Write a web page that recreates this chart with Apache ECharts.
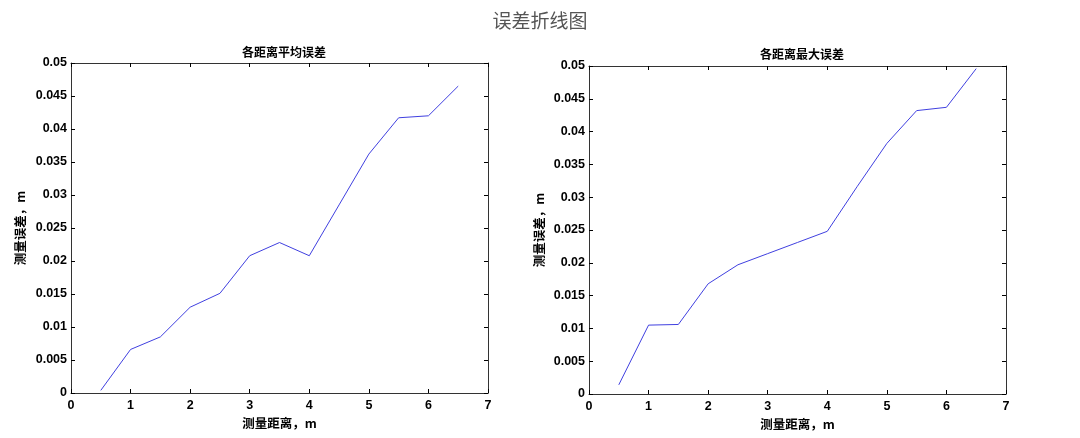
<!DOCTYPE html>
<html><head><meta charset="utf-8">
<script src="https://cdn.jsdelivr.net/npm/echarts@6/dist/echarts.min.js"></script>
<style>html,body{margin:0;padding:0;background:#fff;}#c{width:1080px;height:438px;}</style>
</head><body><div id="c"></div>
<script>
var distances = [0.5, 1, 1.5, 2, 2.5, 3, 3.5, 4, 4.5, 5, 5.5, 6, 6.5];
var meanError = [0.0004, 0.0066, 0.0085, 0.0130, 0.0151, 0.0208, 0.0228, 0.0208, 0.0285, 0.0362, 0.0417, 0.0420, 0.0465];
var maxError = [0.0014, 0.0105, 0.0106, 0.0168, 0.0197, 0.0214, 0.0231, 0.0248, 0.0316, 0.0382, 0.0432, 0.0437, 0.0496];
var mainTitle = '误差折线图';
var subTitles = ['各距离平均误差', '各距离最大误差'];
var xName = '测量距离，m';
var yName = '测量误差，m';

var chart = echarts.init(document.getElementById('c'));
var lab = {color:'#000', fontWeight:'bold', fontSize:12.5, fontFamily:'Liberation Sans, Arial, sans-serif'};
var nameStyle = {color:'#000', fontWeight:'bold', fontSize:12.5, fontFamily:'Noto Sans CJK SC, sans-serif'};
function mkX(g, main){
  return {type:'value', gridIndex:g, min:0, max:7, interval:1, position: main?'bottom':'top',
    name: main?xName:'', nameLocation:'middle', nameGap:18, nameTextStyle:nameStyle,
    axisLine:{show:true, onZero:false, lineStyle:{color:'#333', width:1}},
    axisTick:{show:true, inside:true, length:4, lineStyle:{color:'#000'}},
    axisLabel:{show:main, margin:6, ...lab}, splitLine:{show:false}};
}
function mkY(g, main){
  return {type:'value', gridIndex:g, min:0, max:0.05, interval:0.005, position: main?'left':'right',
    name: main?yName:'', nameLocation:'middle', nameGap:44, nameRotate:90, nameTextStyle:nameStyle,
    axisLine:{show:true, onZero:false, lineStyle:{color:'#333', width:1}},
    axisTick:{show:true, inside:true, length:4, lineStyle:{color:'#000'}},
    axisLabel:{show:main, margin:4, ...lab, formatter:function(v){return String(+v.toFixed(3));}},
    splitLine:{show:false}};
}
function pts(ys){ return distances.map(function(x,i){return [x, ys[i]];}); }
chart.setOption({
  animation:false,
  backgroundColor:'#fff',
  title:[
    {text:mainTitle, left:'center', top:6, textStyle:{color:'#555', fontSize:19, fontWeight:'normal', fontFamily:'Noto Sans CJK SC, sans-serif'}},
    {text:subTitles[0], left:279, top:41, textAlign:'center', textStyle:{color:'#000', fontSize:12, fontWeight:'bold', fontFamily:'Noto Sans CJK SC, sans-serif'}},
    {text:subTitles[1], left:797, top:43, textAlign:'center', textStyle:{color:'#000', fontSize:12, fontWeight:'bold', fontFamily:'Noto Sans CJK SC, sans-serif'}}
  ],
  grid:[
    {left:71, width:417, top:63, height:330},
    {left:589, width:417, top:66, height:328}
  ],
  xAxis:[mkX(0,true), mkX(0,false), mkX(1,true), mkX(1,false)],
  yAxis:[mkY(0,true), mkY(0,false), mkY(1,true), mkY(1,false)],
  series:[
    {type:'line', xAxisIndex:0, yAxisIndex:0, data:pts(meanError), showSymbol:false, lineStyle:{color:'#4040e0', width:1}},
    {type:'line', xAxisIndex:2, yAxisIndex:2, data:pts(maxError), showSymbol:false, lineStyle:{color:'#4040e0', width:1}}
  ]
});
</script></body></html>
